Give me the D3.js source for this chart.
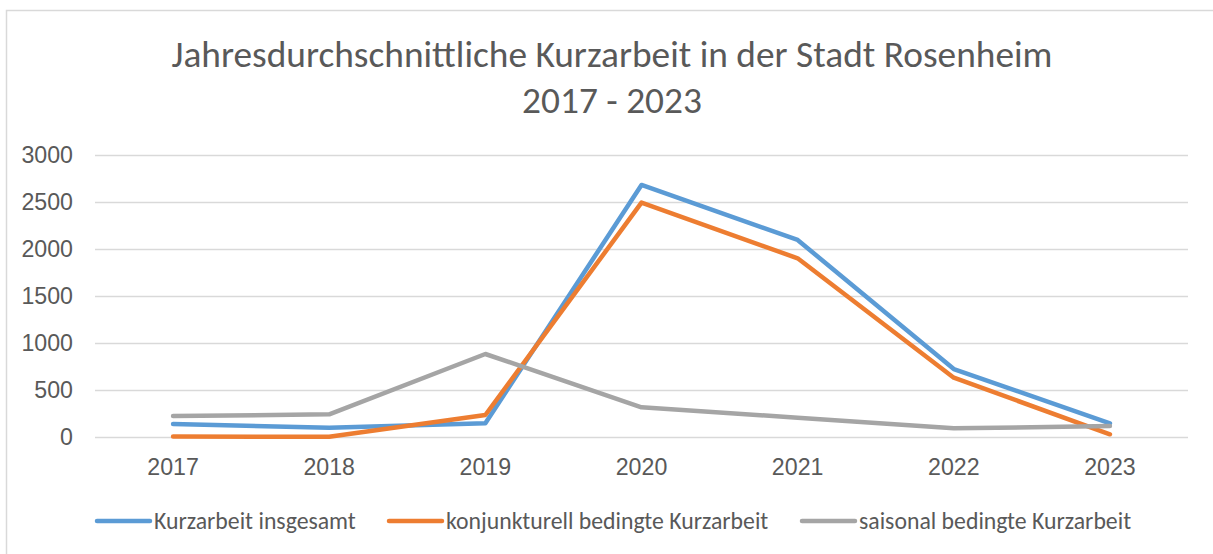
<!DOCTYPE html>
<html><head><meta charset="utf-8">
<script src="https://cdn.jsdelivr.net/npm/d3@7"></script>
<style>
html,body{margin:0;padding:0;background:#fff;}
svg{display:block;font-family:Carlito, Lato, "Open Sans", sans-serif;}
</style></head>
<body>
<svg id="chart" width="1213" height="554"></svg>
<script>
const years = ["2017","2018","2019","2020","2021","2022","2023"];
const insgesamt = [138, 99, 146, 2681, 2096, 723, 146];
const konjunkturell = [5, 3, 234, 2493, 1901, 631, 29];
const saisonal = [223, 241, 883, 316, 205, 92, 117];
const yTicks = [0, 500, 1000, 1500, 2000, 2500, 3000];
const seriesNames = ["Kurzarbeit insgesamt", "konjunkturell bedingte Kurzarbeit", "saisonal bedingte Kurzarbeit"];
const colors = ["#5B9BD5", "#ED7D31", "#A5A5A5"];
const titleLines = ["Jahresdurchschnittliche Kurzarbeit in der Stadt Rosenheim", "2017 - 2023"];

const svg = d3.select("#chart");
const textColor = "#595959";

// helper: font size so that text has a target width
function fitSize(str, target) {
  const t = svg.append("text").style("font-size", "20px").text(str);
  const w = t.node().getComputedTextLength();
  t.remove();
  return 20 * target / w;
}
const tickFs = fitSize("3000", 47);
const legendFs = fitSize(seriesNames[0], 202);
const titleFs = fitSize(titleLines[0], 881);

// chart border
svg.append("rect").attr("x", 6.5).attr("y", 10.5).attr("width", 1230).attr("height", 560)
  .attr("fill", "#fff").attr("stroke", "#d9d9d9").attr("stroke-width", 1.5);

const plot = {left: 95, right: 1188, top: 155, bottom: 437};
const x = d3.scaleBand().domain(years).range([plot.left, plot.right]);
const y = d3.scaleLinear().domain([0, 3000]).range([plot.bottom, plot.top]);

// title
titleLines.forEach((t, i) => {
  svg.append("text").attr("x", 612).attr("y", 67 + i * 46)
    .attr("text-anchor", "middle").attr("fill", textColor)
    .style("font-size", titleFs + "px").text(t);
});

// gridlines + y labels
const yAxis = d3.axisLeft(y).tickValues(yTicks).tickFormat(d3.format("d"))
  .tickSize(-(plot.right - plot.left)).tickPadding(22);
const gy = svg.append("g").attr("transform", `translate(${plot.left},0)`).call(yAxis);
gy.select(".domain").remove();
gy.selectAll(".tick line").attr("stroke", "#d9d9d9").attr("stroke-width", 1.5);
gy.selectAll(".tick text").attr("fill", textColor).style("font-size", tickFs + "px").style("font-family", "inherit");

// x axis labels
const xAxis = d3.axisBottom(x).tickSize(0).tickPadding(22);
const gx = svg.append("g").attr("transform", `translate(0,${plot.bottom})`).call(xAxis);
gx.select(".domain").remove();
gx.selectAll(".tick text").attr("fill", textColor).style("font-size", tickFs + "px").style("font-family", "inherit");

// lines
const data = [insgesamt, konjunkturell, saisonal];
const line = d3.line().x((d, i) => x(years[i]) + x.bandwidth() / 2).y(d => y(d));
data.forEach((s, k) => {
  svg.append("path").datum(s).attr("d", line)
    .attr("fill", "none").attr("stroke", colors[k]).attr("stroke-width", 4.5)
    .attr("stroke-linejoin", "round").attr("stroke-linecap", "round");
});

// legend
const legendX = [95, 387, 800];
const legendY = 521;
seriesNames.forEach((n, k) => {
  const g = svg.append("g").attr("transform", `translate(${legendX[k]},${legendY})`);
  g.append("line").attr("x1", 2).attr("x2", 55).attr("y1", 0).attr("y2", 0)
    .attr("stroke", colors[k]).attr("stroke-width", 4.5).attr("stroke-linecap", "round");
  g.append("text").attr("x", 59).attr("y", 0).attr("dy", "0.35em")
    .attr("fill", textColor).style("font-size", legendFs + "px").text(n);
});
</script>
</body></html>
